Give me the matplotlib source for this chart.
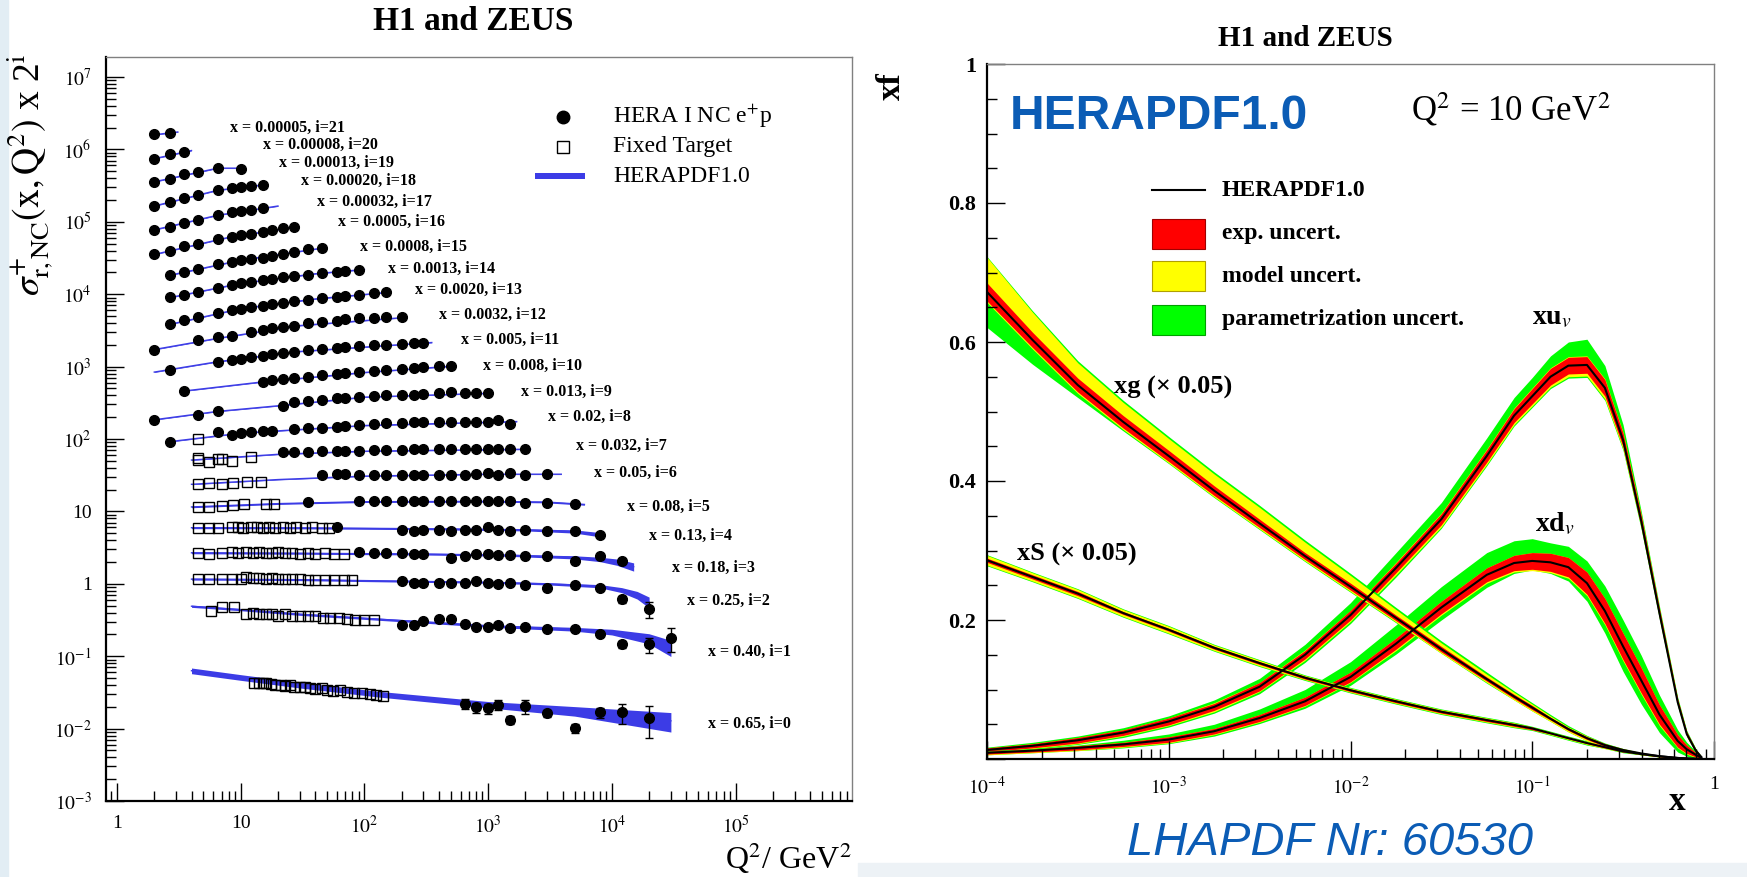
import matplotlib
matplotlib.use("Agg")
import matplotlib.pyplot as plt
import numpy as np
from matplotlib.patches import Rectangle
from matplotlib.ticker import FixedLocator, FuncFormatter, MultipleLocator

plt.rcParams["font.family"] = ["Liberation Serif", "DejaVu Serif"]
plt.rcParams["mathtext.fontset"] = "stix"

# ---------------------------------------------------------------- left panel data
# reduced NC cross sections, one entry per x bin, index i (plotted as sigma * 2^i)
X_BINS = ["0.65", "0.40", "0.25", "0.18", "0.13", "0.08", "0.05", "0.032", "0.02",
          "0.013", "0.008", "0.005", "0.0032", "0.0020", "0.0013", "0.0008",
          "0.0005", "0.00032", "0.00020", "0.00013", "0.00008", "0.00005"]

HERA_Q2 = [
    [650, 800, 1000, 1200, 1500, 2000, 3000, 5000, 8000, 12000, 20000],
    [200, 250, 300, 400, 500, 650, 800, 1000, 1200, 1500, 2000, 3000, 5000, 8000, 12000, 20000, 30000],
    [200, 250, 300, 400, 500, 650, 800, 1000, 1200, 1500, 2000, 3000, 5000, 8000, 12000, 20000],
    [90, 120, 150, 200, 250, 300, 500, 650, 800, 1000, 1200, 1500, 2000, 3000, 5000, 8000, 12000],
    [60, 200, 250, 300, 400, 500, 650, 800, 1000, 1200, 1500, 2000, 3000, 5000, 8000],
    [35, 90, 120, 150, 200, 250, 300, 400, 500, 650, 800, 1000, 1200, 1500, 2000, 3000, 5000],
    [45, 60, 70, 90, 120, 150, 200, 250, 300, 400, 500, 650, 800, 1000, 1200, 1500, 2000, 3000],
    [22, 27, 35, 45, 60, 70, 90, 120, 150, 200, 250, 300, 400, 500, 650, 800, 1000, 1200, 1500, 2000],
    [2.7, 6.5, 8.5, 10, 12, 15, 18, 27, 35, 45, 60, 70, 90, 120, 150, 200, 250, 300, 400, 500, 650, 800, 1000, 1200, 1500],
    [2, 4.5, 6.5, 22, 27, 35, 45, 60, 70, 90, 120, 150, 200, 250, 300, 400, 500, 650, 800, 1000],
    [3.5, 15, 18, 22, 27, 35, 45, 60, 70, 90, 120, 150, 200, 250, 300, 400, 500],
    [2.7, 6.5, 8.5, 10, 12, 15, 18, 22, 27, 35, 45, 60, 70, 90, 120, 150, 200, 250, 300],
    [2, 4.5, 6.5, 8.5, 12, 15, 18, 22, 27, 35, 45, 60, 70, 90, 120, 150, 200],
    [2.7, 3.5, 4.5, 6.5, 8.5, 10, 12, 15, 18, 22, 27, 35, 45, 60, 70, 90, 120, 150],
    [2.7, 3.5, 4.5, 6.5, 8.5, 10, 12, 15, 18, 22, 27, 35, 45, 60, 70, 90],
    [2.7, 3.5, 4.5, 6.5, 8.5, 10, 12, 15, 18, 22, 27, 35, 45],
    [2, 2.7, 3.5, 4.5, 6.5, 8.5, 10, 12, 15, 18, 22, 27],
    [2, 2.7, 3.5, 4.5, 6.5, 8.5, 10, 12, 15],
    [2, 2.7, 3.5, 4.5, 6.5, 8.5, 10, 12, 15],
    [2, 2.7, 3.5, 4.5, 6.5, 10],
    [2, 2.7, 3.5],
    [2, 2.7],
]
HERA_SIGMA = [
    [0.0219, 0.0197, 0.0191, 0.0212, 0.0131, 0.0205, 0.0163, 0.0101, 0.0168, 0.0168, 0.0139],
    [0.135, 0.135, 0.155, 0.162, 0.162, 0.139, 0.128, 0.125, 0.135, 0.121, 0.125, 0.119, 0.119, 0.100, 0.073, 0.073, 0.090],
    [0.27, 0.26, 0.26, 0.26, 0.26, 0.26, 0.27, 0.26, 0.25, 0.26, 0.24, 0.22, 0.24, 0.22, 0.154, 0.111],
    [0.34, 0.33, 0.33, 0.33, 0.32, 0.32, 0.28, 0.30, 0.32, 0.32, 0.31, 0.31, 0.30, 0.30, 0.26, 0.30, 0.26],
    [0.38, 0.346, 0.33, 0.346, 0.346, 0.34, 0.346, 0.35, 0.385, 0.35, 0.33, 0.35, 0.34, 0.34, 0.295],
    [0.42, 0.43, 0.43, 0.43, 0.43, 0.43, 0.43, 0.43, 0.43, 0.43, 0.44, 0.43, 0.44, 0.43, 0.41, 0.41, 0.39],
    [0.49, 0.51, 0.51, 0.49, 0.49, 0.50, 0.49, 0.50, 0.50, 0.50, 0.50, 0.50, 0.51, 0.53, 0.50, 0.53, 0.50, 0.52],
    [0.51, 0.51, 0.52, 0.53, 0.54, 0.54, 0.54, 0.55, 0.55, 0.55, 0.56, 0.56, 0.56, 0.57, 0.57, 0.56, 0.57, 0.56, 0.56, 0.56],
    [0.35, 0.49, 0.45, 0.47, 0.49, 0.51, 0.51, 0.54, 0.55, 0.56, 0.58, 0.59, 0.60, 0.62, 0.64, 0.64, 0.66, 0.66, 0.68, 0.68, 0.68, 0.67, 0.68, 0.71, 0.63],
    [0.36, 0.42, 0.48, 0.56, 0.63, 0.65, 0.68, 0.71, 0.73, 0.75, 0.76, 0.79, 0.80, 0.80, 0.81, 0.83, 0.86, 0.83, 0.83, 0.83],
    [0.45, 0.60, 0.63, 0.66, 0.68, 0.71, 0.74, 0.77, 0.79, 0.82, 0.85, 0.87, 0.90, 0.93, 0.95, 0.98, 1.00],
    [0.44, 0.57, 0.61, 0.63, 0.66, 0.69, 0.72, 0.75, 0.78, 0.82, 0.85, 0.89, 0.91, 0.93, 0.96, 0.98, 1.01, 1.02, 1.04],
    [0.42, 0.56, 0.62, 0.64, 0.74, 0.78, 0.83, 0.85, 0.89, 0.97, 1.00, 1.05, 1.10, 1.13, 1.16, 1.17, 1.17],
    [0.47, 0.53, 0.59, 0.67, 0.73, 0.77, 0.81, 0.85, 0.89, 0.93, 0.97, 1.02, 1.07, 1.12, 1.15, 1.20, 1.26, 1.30],
    [0.55, 0.60, 0.66, 0.75, 0.82, 0.86, 0.90, 0.95, 1.00, 1.04, 1.08, 1.14, 1.19, 1.25, 1.28, 1.33],
    [0.56, 0.62, 0.67, 0.79, 0.85, 0.90, 0.94, 0.97, 1.03, 1.10, 1.16, 1.30, 1.34],
    [0.54, 0.60, 0.71, 0.75, 0.87, 0.95, 0.99, 1.05, 1.10, 1.16, 1.24, 1.29],
    [0.59, 0.65, 0.73, 0.82, 0.94, 1.04, 1.08, 1.12, 1.20],
    [0.63, 0.72, 0.80, 0.89, 1.04, 1.11, 1.16, 1.18, 1.23],
    [0.68, 0.74, 0.86, 0.94, 1.07, 1.03],
    [0.71, 0.82, 0.88],
    [0.77, 0.81],
]
# relative errors, only drawn where they are larger than the symbols
HERA_RELERR = {
    0: [0.16, 0.16, 0.16, 0.16, 0.13, 0.23, 0.11, 0.13, 0.16, 0.32, 0.47],
    1: [0.03, 0.03, 0.03, 0.03, 0.03, 0.03, 0.03, 0.03, 0.03, 0.03, 0.03, 0.03, 0.03, 0.04, 0.11, 0.24, 0.37],
    2: [0.02, 0.02, 0.02, 0.02, 0.02, 0.02, 0.02, 0.02, 0.02, 0.02, 0.02, 0.02, 0.03, 0.03, 0.11, 0.25],
}

FT_Q2 = [
    [12.7, 14, 15, 16, 17.5, 19, 21, 23, 25, 27, 30, 33, 36, 40, 45, 50, 56, 63, 72, 82, 95, 110, 125, 140],
    [5.7, 7, 8.8, 11, 12.5, 14, 16, 18, 20, 23, 26, 30, 35, 40, 46, 53, 62, 72, 84, 100, 120],
    [4.5, 5.5, 7, 8.5, 10, 11, 12.5, 14, 16, 18, 20, 23, 26, 30, 35, 40, 48, 57, 68, 80],
    [4.5, 5.5, 7, 8.5, 9.5, 11, 12.5, 14, 16, 18, 20, 23, 26, 30, 35, 40, 48, 57, 68],
    [4.5, 5.5, 6.5, 8.5, 9.5, 10.5, 12, 13.5, 15, 17, 19, 22, 25, 28, 33, 38, 45, 52],
    [4.5, 5.5, 7, 8.7, 10.7, 16, 18.7],
    [4.5, 5.5, 7, 8.7, 11.3, 14.7],
    [4.5, 4.5, 5.5, 6.5, 7, 8.5, 12],
    [4.5],
] + [[] for _ in range(13)]
FT_SIGMA = [
    [0.043, 0.042, 0.043, 0.042, 0.041, 0.040, 0.040, 0.039, 0.040, 0.038, 0.037, 0.038, 0.036, 0.035, 0.036, 0.034, 0.033, 0.034, 0.032, 0.031, 0.031, 0.030, 0.029, 0.028],
    [0.21, 0.24, 0.24, 0.19, 0.20, 0.19, 0.19, 0.19, 0.18, 0.19, 0.18, 0.18, 0.18, 0.18, 0.17, 0.17, 0.17, 0.165, 0.16, 0.16, 0.158],
    [0.29, 0.29, 0.29, 0.29, 0.29, 0.31, 0.30, 0.30, 0.29, 0.30, 0.29, 0.29, 0.29, 0.29, 0.28, 0.28, 0.28, 0.28, 0.28, 0.28],
    [0.33, 0.32, 0.33, 0.34, 0.33, 0.34, 0.33, 0.34, 0.33, 0.33, 0.34, 0.33, 0.33, 0.32, 0.33, 0.32, 0.33, 0.32, 0.32],
    [0.37, 0.37, 0.37, 0.375, 0.38, 0.37, 0.375, 0.38, 0.37, 0.375, 0.37, 0.375, 0.37, 0.38, 0.37, 0.375, 0.37, 0.365],
    [0.36, 0.36, 0.37, 0.38, 0.39, 0.39, 0.40],
    [0.37, 0.38, 0.37, 0.38, 0.40, 0.40],
    [0.43, 0.40, 0.38, 0.41, 0.42, 0.39, 0.44],
    [0.39],
] + [[] for _ in range(13)]

# HERAPDF1.0 prediction per bin: Q2 knots, central value, relative half width
FIT_Q2 = [
    [4, 10, 30, 130, 1000, 5000, 30000],
    [4, 10, 30, 100, 1000, 5000, 10000, 20000, 30000],
    [4, 30, 200, 1000, 3000, 8000, 12000, 16000, 20000],
    [4, 30, 300, 1500, 5000, 8000, 11000, 15000],
    [4, 30, 300, 2000, 5000, 8500],
    [4, 20, 100, 1000, 3000, 6000],
    [4, 20, 100, 1000, 3900],
    [4, 20, 100, 2200],
    [2.7, 10, 100, 1700],
    [2, 6.5, 22, 100, 1100],
    [3.5, 15, 100, 550],
    [2, 6.5, 30, 350],
    [2, 6.5, 30, 220],
    [2.7, 10, 40, 160],
    [2.7, 10, 40, 100],
    [2.7, 10, 48],
    [2, 8, 28],
    [2, 6.5, 20],
    [2, 6.5, 15.5],
    [2, 6.5, 10],
    [2, 4],
    [2, 3.1],
]
FIT_SIGMA = [
    [0.063, 0.051, 0.040, 0.030, 0.0215, 0.0175, 0.0128],
    [0.245, 0.22, 0.19, 0.167, 0.131, 0.118, 0.108, 0.088, 0.066],
    [0.29, 0.285, 0.272, 0.262, 0.25, 0.232, 0.205, 0.175, 0.14],
    [0.335, 0.33, 0.322, 0.31, 0.29, 0.272, 0.25, 0.215],
    [0.372, 0.37, 0.36, 0.348, 0.33, 0.295],
    [0.36, 0.40, 0.425, 0.43, 0.42, 0.39],
    [0.37, 0.43, 0.48, 0.51, 0.51],
    [0.40, 0.48, 0.53, 0.565],
    [0.36, 0.47, 0.60, 0.68],
    [0.36, 0.47, 0.57, 0.74, 0.84],
    [0.45, 0.60, 0.81, 1.00],
    [0.41, 0.57, 0.79, 1.05],
    [0.42, 0.60, 0.90, 1.17],
    [0.47, 0.77, 1.05, 1.30],
    [0.55, 0.86, 1.17, 1.34],
    [0.56, 0.90, 1.34],
    [0.54, 0.93, 1.30],
    [0.59, 0.94, 1.26],
    [0.63, 1.04, 1.24],
    [0.68, 1.05, 1.05],
    [0.71, 0.92],
    [0.76, 0.83],
]
FIT_WIDTH = [
    [0.09, 0.09, 0.09, 0.09, 0.10, 0.15, 0.30],
    [0.035, 0.035, 0.035, 0.035, 0.04, 0.06, 0.09, 0.16, 0.25],
    [0.03, 0.03, 0.03, 0.03, 0.035, 0.05, 0.08, 0.12, 0.17],
    [0.03, 0.03, 0.03, 0.035, 0.05, 0.07, 0.10, 0.13],
    [0.03, 0.03, 0.03, 0.035, 0.05, 0.07],
    [0.025, 0.025, 0.025, 0.025, 0.025, 0.025],
] + [0.012] * 16

# where each "x = ..., i=..." caption sits, in (Q2, sigma*2^i)
LABEL_AT = [(59400, 0.0118), (59400, 0.115), (40600, 0.578), (30400, 1.67), (20100, 4.57),
            (13140, 11.6), (7180, 34.3), (5130, 80), (3050, 203), (1850, 450), (910, 1030),
            (605, 2330), (403, 5160), (256, 1.14e4), (154, 2.21e4), (92, 4.53e4),
            (61.5, 1.0e5), (41.1, 1.89e5), (30.7, 3.7e5), (20.3, 6.43e5), (15.2, 1.15e6),
            (8.2, 2.0e6)]

# ---------------------------------------------------------------- right panel data
PDF_X = [1e-4, 1.78e-4, 3.16e-4, 5.62e-4, 1e-3, 1.78e-3, 3.16e-3, 5.62e-3, 0.01, 0.0178,
         0.0316, 0.0562, 0.0794, 0.1, 0.126, 0.158, 0.2, 0.251, 0.316, 0.398, 0.501,
         0.631, 0.708, 0.794, 0.851]

XUV = [0.013, 0.019, 0.027, 0.038, 0.054, 0.075, 0.104, 0.150, 0.207, 0.275, 0.345, 0.436,
       0.494, 0.522, 0.550, 0.566, 0.567, 0.534, 0.459, 0.342, 0.210, 0.082, 0.036, 0.012, 0.003]
XUV_EXP = [0.003, 0.003, 0.004, 0.004, 0.005, 0.005, 0.006, 0.006, 0.007, 0.007, 0.008, 0.009,
           0.010, 0.011, 0.012, 0.012, 0.012, 0.012, 0.010, 0.008, 0.006, 0.004, 0.003, 0.002, 0.001]
XUV_MOD_LO = [0.004, 0.004, 0.005, 0.005, 0.006, 0.007, 0.007, 0.008, 0.009, 0.010, 0.011, 0.012,
              0.013, 0.014, 0.015, 0.016, 0.016, 0.016, 0.013, 0.010, 0.008, 0.005, 0.004, 0.002, 0.001]
XUV_MOD_HI = [0.003, 0.003, 0.004, 0.004, 0.005, 0.006, 0.006, 0.007, 0.007, 0.008, 0.009, 0.010,
              0.011, 0.012, 0.013, 0.013, 0.013, 0.013, 0.011, 0.009, 0.007, 0.005, 0.003, 0.002, 0.001]
XUV_TOT_LO = [0.005, 0.005, 0.006, 0.007, 0.008, 0.009, 0.010, 0.011, 0.012, 0.013, 0.013, 0.014,
              0.015, 0.016, 0.017, 0.018, 0.018, 0.018, 0.015, 0.012, 0.009, 0.006, 0.004, 0.003, 0.001]
XUV_TOT_HI = [0.004, 0.005, 0.006, 0.007, 0.008, 0.010, 0.012, 0.015, 0.018, 0.022, 0.024, 0.026,
              0.026, 0.027, 0.030, 0.034, 0.037, 0.032, 0.022, 0.014, 0.010, 0.007, 0.005, 0.003, 0.001]

XDV = [0.009, 0.012, 0.016, 0.021, 0.028, 0.040, 0.059, 0.083, 0.118, 0.166, 0.218, 0.265,
       0.282, 0.285, 0.283, 0.276, 0.253, 0.213, 0.162, 0.113, 0.064, 0.026, 0.014, 0.006, 0.002]
XDV_EXP = [0.002, 0.002, 0.003, 0.003, 0.004, 0.004, 0.005, 0.006, 0.007, 0.008, 0.009, 0.010,
           0.011, 0.012, 0.013, 0.014, 0.016, 0.018, 0.019, 0.018, 0.014, 0.009, 0.006, 0.003, 0.001]
XDV_MOD_LO = [0.003, 0.003, 0.004, 0.004, 0.005, 0.005, 0.006, 0.007, 0.008, 0.010, 0.011, 0.012,
              0.013, 0.014, 0.015, 0.016, 0.018, 0.020, 0.021, 0.020, 0.016, 0.010, 0.007, 0.004, 0.001]
XDV_MOD_HI = [0.002, 0.002, 0.003, 0.003, 0.004, 0.004, 0.005, 0.006, 0.007, 0.008, 0.009, 0.010,
              0.011, 0.012, 0.013, 0.014, 0.016, 0.018, 0.019, 0.018, 0.014, 0.009, 0.006, 0.003, 0.001]
XDV_TOT_LO = [0.003, 0.003, 0.004, 0.005, 0.006, 0.007, 0.008, 0.010, 0.012, 0.015, 0.018, 0.018,
              0.015, 0.013, 0.016, 0.020, 0.026, 0.032, 0.036, 0.034, 0.026, 0.016, 0.010, 0.005, 0.001]
XDV_TOT_HI = [0.003, 0.003, 0.004, 0.006, 0.008, 0.010, 0.013, 0.017, 0.022, 0.027, 0.030, 0.032,
              0.032, 0.032, 0.028, 0.030, 0.032, 0.036, 0.038, 0.036, 0.028, 0.016, 0.010, 0.005, 0.001]

# gluon and sea, both scaled by 0.05
XG = [0.672, 0.603, 0.538, 0.485, 0.436, 0.386, 0.339, 0.292, 0.248, 0.203, 0.158, 0.115,
      0.090, 0.074, 0.058, 0.043, 0.030, 0.020, 0.013, 0.008, 0.004, 0.0015, 0.0008, 0.0003, 0.0]
XG_EXP = [0.013, 0.011, 0.010, 0.009, 0.008, 0.007, 0.006, 0.005, 0.005, 0.004, 0.004, 0.003,
          0.003, 0.003, 0.002, 0.002, 0.002, 0.002, 0.001, 0.001, 0.001, 0.0005, 0.0005, 0.0003, 0.0]
XG_MOD_LO = [0.015, 0.013, 0.012, 0.011, 0.010, 0.009, 0.008, 0.007, 0.007, 0.006, 0.006, 0.005,
             0.005, 0.005, 0.004, 0.004, 0.004, 0.003, 0.002, 0.002, 0.001, 0.0005, 0.0005, 0.0003, 0.0]
XG_MOD_HI = [0.050, 0.040, 0.032, 0.028, 0.025, 0.024, 0.023, 0.020, 0.016, 0.012, 0.009, 0.007,
             0.006, 0.005, 0.004, 0.003, 0.003, 0.002, 0.002, 0.001, 0.001, 0.0005, 0.0005, 0.0003, 0.0]
XG_TOT_LO = [0.051, 0.035, 0.018, 0.013, 0.011, 0.010, 0.009, 0.008, 0.008, 0.007, 0.006, 0.006,
             0.005, 0.005, 0.004, 0.004, 0.004, 0.003, 0.002, 0.002, 0.001, 0.0005, 0.0005, 0.0003, 0.0]
XG_TOT_HI = [0.051, 0.042, 0.035, 0.031, 0.028, 0.027, 0.026, 0.023, 0.019, 0.015, 0.012, 0.010,
             0.008, 0.007, 0.006, 0.005, 0.004, 0.003, 0.002, 0.001, 0.001, 0.0005, 0.0005, 0.0003, 0.0]

XS = [0.286, 0.262, 0.238, 0.210, 0.186, 0.160, 0.138, 0.117, 0.099, 0.083, 0.068, 0.056,
      0.049, 0.044, 0.037, 0.030, 0.023, 0.017, 0.011, 0.007, 0.004, 0.0015, 0.0008, 0.0003, 0.0]
XS_EXP = [0.003, 0.003, 0.003, 0.002, 0.002, 0.002, 0.002, 0.002, 0.002, 0.002, 0.002, 0.002,
          0.002, 0.002, 0.001, 0.001, 0.001, 0.001, 0.001, 0.0005, 0.0005, 0.0003, 0.0002, 0.0001, 0.0]
XS_MOD = [0.007, 0.006, 0.006, 0.005, 0.005, 0.004, 0.004, 0.003, 0.003, 0.003, 0.003, 0.003,
          0.003, 0.002, 0.002, 0.002, 0.002, 0.002, 0.001, 0.001, 0.001, 0.0005, 0.0003, 0.0002, 0.0]
XS_TOT = [0.008, 0.007, 0.007, 0.006, 0.006, 0.005, 0.005, 0.004, 0.004, 0.004, 0.004, 0.004,
          0.004, 0.003, 0.003, 0.003, 0.003, 0.002, 0.002, 0.001, 0.001, 0.0005, 0.0003, 0.0002, 0.0]

BAND_BLUE = "#3c3ce6"
TITLE_BLUE = "#0b5cb5"
RED, YELLOW, GREEN = "#ff0000", "#ffff00", "#00ff00"


def decade_label(v, _pos):
    k = int(round(np.log10(v)))
    if k == 0:
        return "1"
    if k == 1:
        return "10"
    return rf"$10^{{{k}}}$"


def frame(ax):
    for side in ("left", "bottom"):
        ax.spines[side].set_linewidth(1.6)
        ax.spines[side].set_color("black")
    for side in ("top", "right"):
        ax.spines[side].set_linewidth(1.0)
        ax.spines[side].set_color("#808080")
    ax.tick_params(which="both", direction="in", top=False, right=False, width=1.0)
    ax.tick_params(which="major", length=13)
    ax.tick_params(which="minor", length=7)


def draw_cross_sections(ax):
    for i in range(len(X_BINS)):
        scale = 2.0 ** i
        q = np.array(FIT_Q2[i], dtype=float)
        c = np.array(FIT_SIGMA[i]) * scale
        w = np.broadcast_to(np.asarray(FIT_WIDTH[i], dtype=float), q.shape)
        ax.fill_between(q, c * (1 - w), c * (1 + w), color=BAND_BLUE, lw=0, zorder=1)
        ax.plot(q, c, color=BAND_BLUE, lw=1.0, zorder=1)

        if FT_Q2[i]:
            ax.plot(FT_Q2[i], np.array(FT_SIGMA[i]) * scale, "s", mfc="none", mec="black",
                    ms=7, mew=1.0, zorder=3)

        hs = np.array(HERA_SIGMA[i]) * scale
        if i in HERA_RELERR:
            ax.errorbar(HERA_Q2[i], hs, yerr=hs * np.array(HERA_RELERR[i]), fmt="none",
                        ecolor="black", elinewidth=1.0, capsize=3, zorder=3)
        ax.plot(HERA_Q2[i], hs, "o", color="black", ms=7, zorder=4)

        ax.text(*LABEL_AT[i], f"x = {X_BINS[i]}, i={i}", fontsize=11.5, fontweight="bold",
                va="center", ha="left")

    ax.set_xscale("log")
    ax.set_yscale("log")
    ax.set_xlim(0.807, 8.7e5)
    ax.set_ylim(1e-3, 1.87e7)
    frame(ax)
    ax.xaxis.set_major_locator(FixedLocator([10.0 ** k for k in range(0, 6)]))
    ax.xaxis.set_minor_locator(FixedLocator([m * 10.0 ** k for k in range(-1, 6) for m in range(2, 10)]))
    ax.yaxis.set_major_locator(FixedLocator([10.0 ** k for k in range(-3, 8)]))
    ax.yaxis.set_minor_locator(FixedLocator([m * 10.0 ** k for k in range(-3, 8) for m in range(2, 10)]))
    ax.xaxis.set_major_formatter(FuncFormatter(decade_label))
    ax.yaxis.set_major_formatter(FuncFormatter(decade_label))
    ax.xaxis.set_minor_formatter(FuncFormatter(lambda v, p: ""))
    ax.yaxis.set_minor_formatter(FuncFormatter(lambda v, p: ""))
    ax.tick_params(axis="both", which="major", labelsize=14, pad=10)

    # legend
    ax.plot([0.613], [0.920], "o", color="black", ms=9, transform=ax.transAxes)
    ax.plot([0.613], [0.880], "s", mfc="none", mec="black", ms=9, mew=1.0, transform=ax.transAxes)
    ax.add_patch(Rectangle((0.576, 0.836), 0.067, 0.008, transform=ax.transAxes,
                           color=BAND_BLUE, lw=0))
    for y, txt in ((0.920, r"HERA I NC e$^{+}$p"), (0.880, "Fixed Target"), (0.840, "HERAPDF1.0")):
        ax.text(0.680, y, txt, transform=ax.transAxes, fontsize=17, va="center", ha="left")


def draw_band(ax, c, lo, hi, color):
    x = np.array(PDF_X)
    c = np.array(c)
    ax.fill_between(x, c - np.array(lo), c + np.array(hi), color=color, lw=0)


def draw_pdfs(ax):
    x = np.array(PDF_X)
    curves = [
        (XUV, XUV_EXP, XUV_MOD_LO, XUV_MOD_HI, XUV_TOT_LO, XUV_TOT_HI),
        (XDV, XDV_EXP, XDV_MOD_LO, XDV_MOD_HI, XDV_TOT_LO, XDV_TOT_HI),
        (XS, XS_EXP, XS_MOD, XS_MOD, XS_TOT, XS_TOT),
        (XG, XG_EXP, XG_MOD_LO, XG_MOD_HI, XG_TOT_LO, XG_TOT_HI),
    ]
    for c, e, mlo, mhi, tlo, thi in curves:
        draw_band(ax, c, tlo, thi, GREEN)
        draw_band(ax, c, mlo, mhi, YELLOW)
        draw_band(ax, c, e, e, RED)
        ax.plot(x, c, color="black", lw=1.5)

    ax.set_xscale("log")
    ax.set_xlim(1e-4, 1)
    ax.set_ylim(0, 1)
    frame(ax)
    ax.xaxis.set_major_locator(FixedLocator([10.0 ** k for k in range(-4, 1)]))
    ax.xaxis.set_minor_locator(FixedLocator([m * 10.0 ** k for k in range(-4, 0) for m in range(2, 10)]))
    ax.xaxis.set_major_formatter(FuncFormatter(decade_label))
    ax.xaxis.set_minor_formatter(FuncFormatter(lambda v, p: ""))
    ax.yaxis.set_major_locator(FixedLocator([0, 0.2, 0.4, 0.6, 0.8, 1.0]))
    ax.yaxis.set_minor_locator(MultipleLocator(0.05))
    ax.yaxis.set_major_formatter(FuncFormatter(
        lambda v, p: "" if v < 0.01 else ("1" if v > 0.99 else f"{v:.1f}")))
    ax.tick_params(axis="x", which="major", labelsize=14, pad=12)
    ax.tick_params(axis="y", which="major", labelsize=16, pad=8)
    for lab in ax.get_yticklabels():
        lab.set_fontweight("bold")

    # legend
    tr = ax.transAxes
    ax.plot([0.227, 0.300], [0.818, 0.818], color="black", lw=1.5, transform=tr)
    for y, col, edge in ((0.756, RED, "#a00000"), (0.6945, YELLOW, "#b0a000"), (0.632, GREEN, "#00a000")):
        ax.add_patch(Rectangle((0.227, y - 0.0215), 0.073, 0.043, transform=tr,
                               facecolor=col, edgecolor=edge, lw=0.8))
    for y, txt in ((0.818, "HERAPDF1.0"), (0.756, "exp. uncert."), (0.6945, "model uncert."),
                   (0.632, "parametrization uncert.")):
        ax.text(0.323, y, txt, transform=tr, fontsize=17, fontweight="bold", va="center")

    ax.text(0.031, 0.924, "HERAPDF1.0", transform=tr, color=TITLE_BLUE, fontsize=34.5,
            fontweight="bold", family="Liberation Sans", va="center")
    ax.text(0.583, 0.934, r"Q$^2$ = 10 GeV$^2$", transform=tr, fontsize=25, va="center")
    ax.text(0.175, 0.535, "xg (\u00d7 0.05)", transform=tr, fontsize=19, fontweight="bold", va="center")
    ax.text(0.041, 0.295, "xS (\u00d7 0.05)", transform=tr, fontsize=19, fontweight="bold", va="center")
    ax.text(0.750, 0.635, r"xu$_{v}$", transform=tr, fontsize=20, fontweight="bold", va="center")
    ax.text(0.754, 0.338, r"xd$_{v}$", transform=tr, fontsize=20, fontweight="bold", va="center")


fig = plt.figure(figsize=(17.47, 8.77), dpi=100)
fig.patch.set_facecolor("white")
fig.patches.append(Rectangle((0, 0), 8 / 1747, 1, transform=fig.transFigure,
                             color="#e2edf4", zorder=-1))
fig.patches.append(Rectangle((858 / 1747, 0), 1 - 858 / 1747, 14 / 877, transform=fig.transFigure,
                             color="#edf2f6", zorder=-1))

ax_l = fig.add_axes([105.5 / 1747, 76 / 877, 746.3 / 1747, 743.7 / 877])
draw_cross_sections(ax_l)

ax_r = fig.add_axes([987 / 1747, 118 / 877, 727 / 1747, 695 / 877])
draw_pdfs(ax_r)

fig.text(473 / 1747, 1 - 22 / 877, "H1 and ZEUS", fontsize=24, fontweight="bold",
         ha="center", va="center")
fig.text(1305 / 1747, 1 - 39 / 877, "H1 and ZEUS", fontsize=21, fontweight="bold",
         ha="center", va="center")
fig.text(30 / 1747, 1 - 175 / 877,
         r"$\sigma^{+}_{\mathrm{r,NC}}(\mathrm{x,Q}^{2})$ x 2$^{\mathrm{i}}$",
         fontsize=27, rotation=90, ha="center", va="center")
fig.text(852 / 1747, 1 - 858 / 877, r"Q$^{2}$/ GeV$^{2}$", fontsize=23, ha="right", va="center")
fig.text(891 / 1747, 1 - 86 / 877, "xf", fontsize=24, fontweight="bold", rotation=90,
         ha="center", va="center")
fig.text(1677 / 1747, 1 - 802 / 877, "x", fontsize=24, fontweight="bold", ha="center", va="center")
fig.text(1330 / 1747, 1 - 843 / 877, "LHAPDF Nr: 60530", fontsize=34, style="italic",
         family="Liberation Sans", color=TITLE_BLUE, ha="center", va="center")

fig.savefig("out.png", dpi=100)
